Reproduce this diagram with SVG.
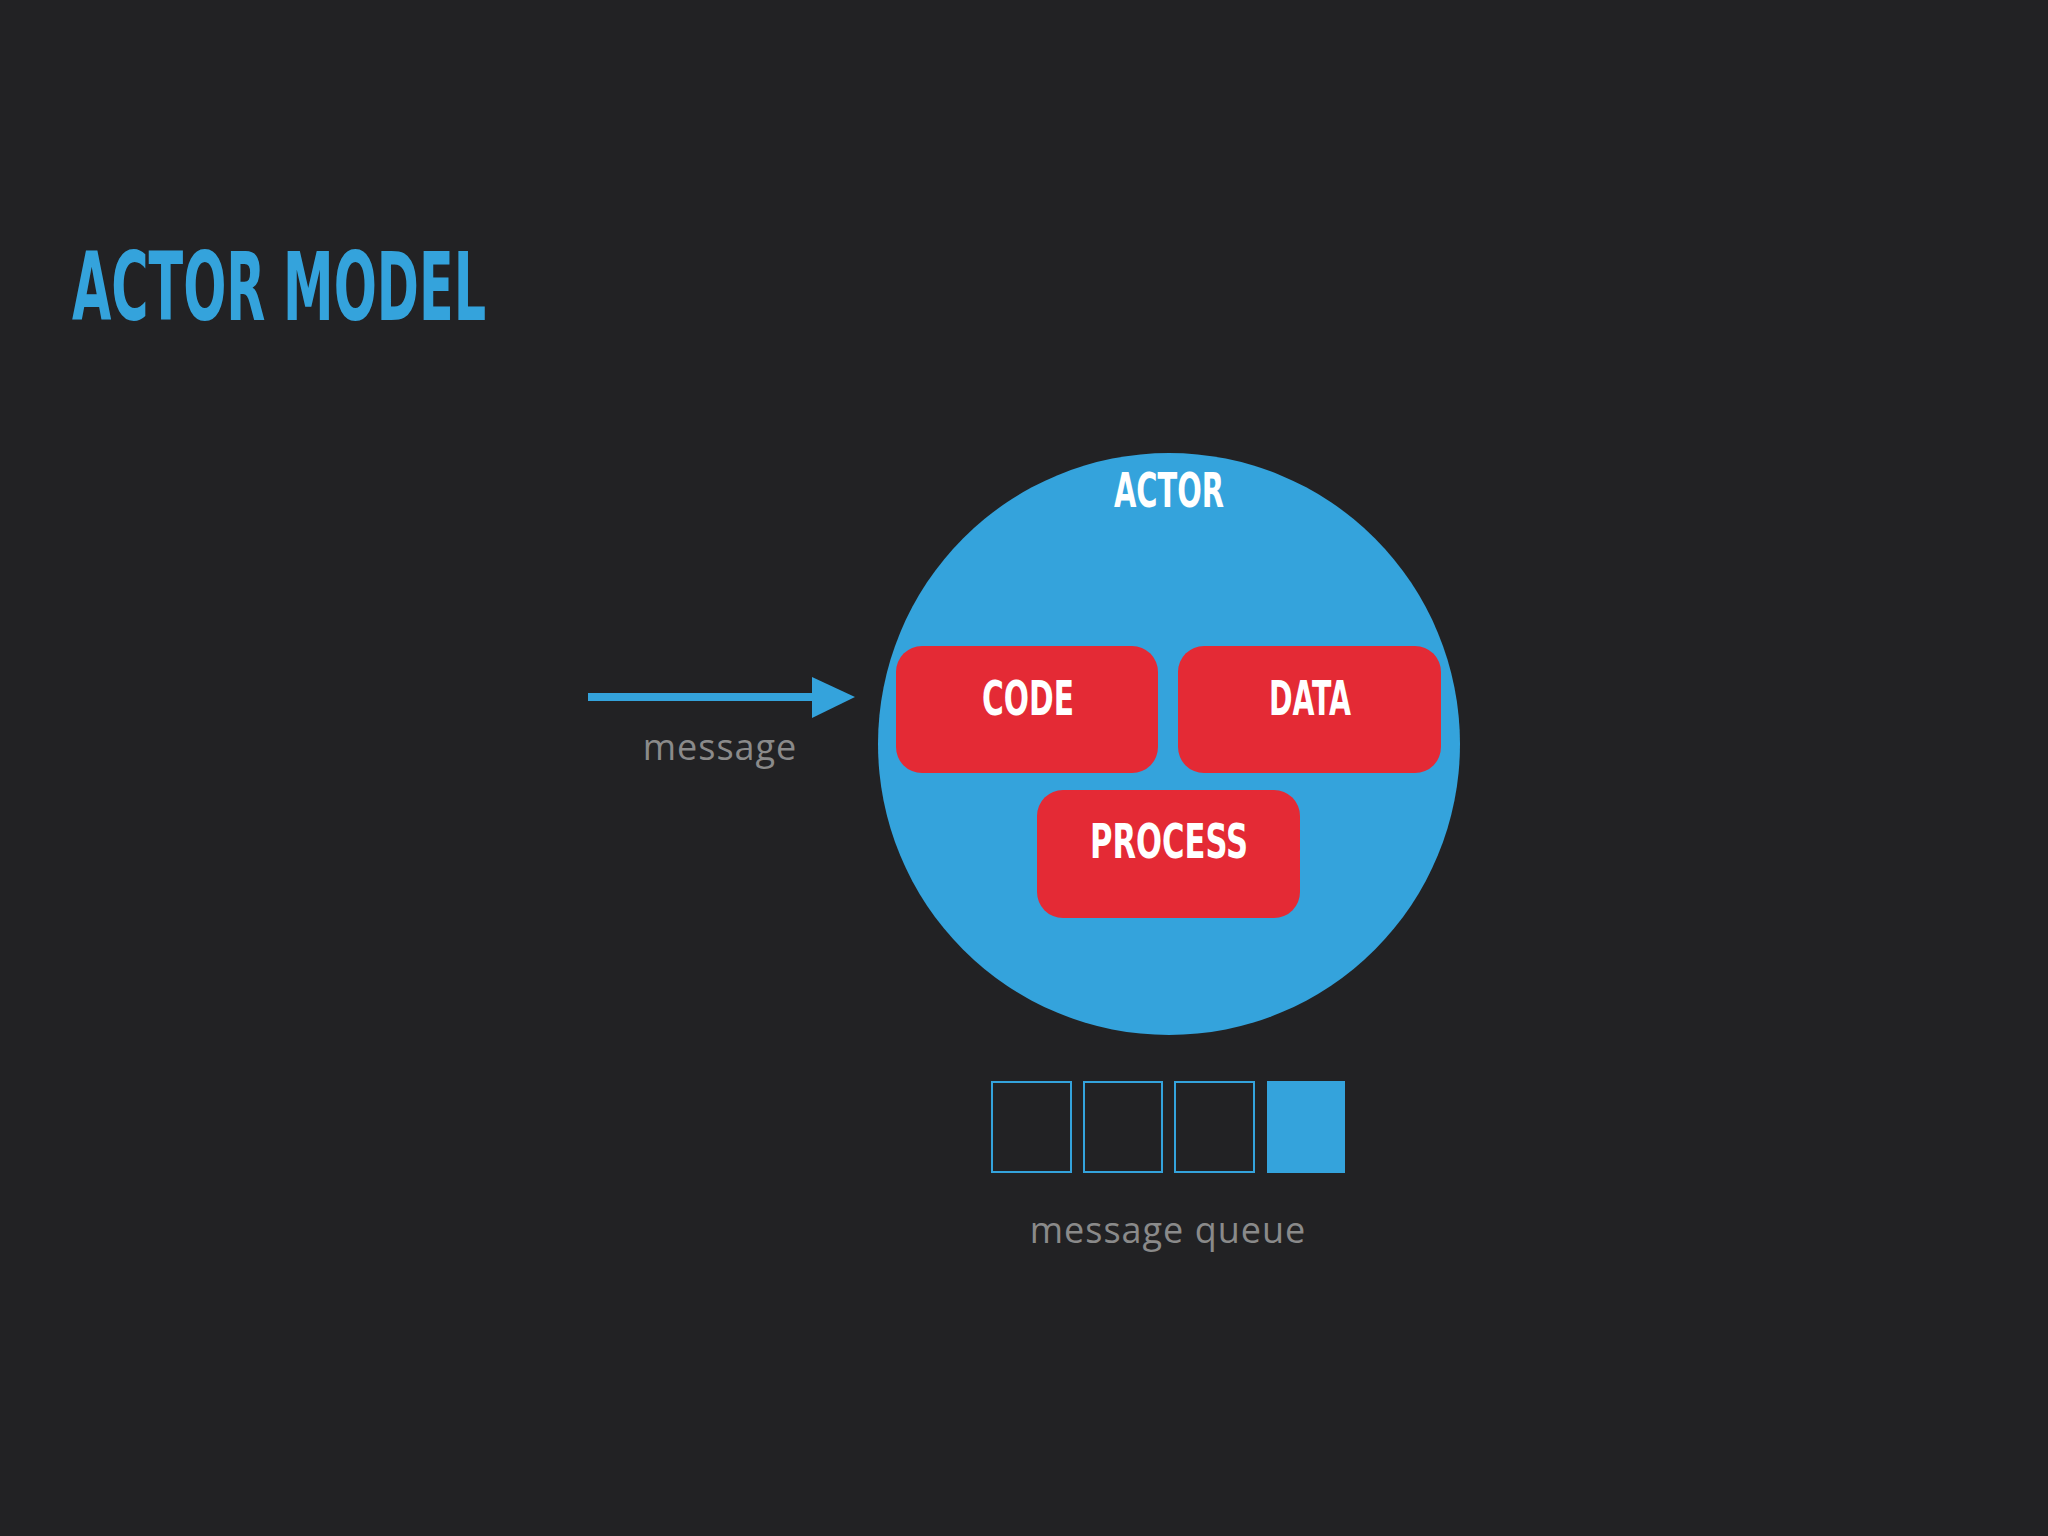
<svg xmlns="http://www.w3.org/2000/svg" width="2048" height="1536" viewBox="0 0 2048 1536">
<style>
.h{font-family:"DejaVu Sans Condensed","DejaVu Sans",sans-serif;font-weight:bold;}
.box{fill:#e42a35;}
.lbl{font-family:"DejaVu Sans Condensed","DejaVu Sans",sans-serif;font-weight:bold;font-size:48px;fill:#fff;text-anchor:middle;}
.cap{font-family:"Open Sans","Noto Sans",sans-serif;font-size:36px;fill:#8a8a8a;text-anchor:middle;letter-spacing:1px;}
.q{fill:#222224;stroke:#34a3dc;stroke-width:2;}
</style>
<rect width="2048" height="1536" fill="#222224"/>
<text class="h" x="72" y="320" font-size="94" fill="#34a3dc" textLength="414" lengthAdjust="spacingAndGlyphs">ACTOR MODEL</text>
<g id="actor">
<circle cx="1169" cy="744" r="291" fill="#34a3dc"/>
<text class="lbl" x="1169" y="507" textLength="110" lengthAdjust="spacingAndGlyphs">ACTOR</text>
</g>
<g id="code"><rect class="box" x="896" y="646" width="262" height="127" rx="26"/><text class="lbl" x="1028" y="715" textLength="92" lengthAdjust="spacingAndGlyphs">CODE</text></g>
<g id="data"><rect class="box" x="1178" y="646" width="263" height="127" rx="26"/><text class="lbl" x="1310" y="715" textLength="82" lengthAdjust="spacingAndGlyphs">DATA</text></g>
<g id="process"><rect class="box" x="1037" y="790" width="263" height="128" rx="26"/><text class="lbl" x="1169" y="858" textLength="158" lengthAdjust="spacingAndGlyphs">PROCESS</text></g>
<g id="connectors">
<line x1="588" y1="697" x2="820" y2="697" stroke="#34a3dc" stroke-width="8"/>
<polygon points="812,677 855,697 812,718" fill="#34a3dc"/>
</g>
<text class="cap" x="720" y="760">message</text>
<g id="queue">
<rect class="q" x="992" y="1082" width="79" height="90"/>
<rect class="q" x="1084" y="1082" width="78" height="90"/>
<rect class="q" x="1175" y="1082" width="79" height="90"/>
<rect x="1267" y="1081" width="78" height="92" fill="#34a3dc"/>
</g>
<text class="cap" x="1168" y="1243">message queue</text>
</svg>
